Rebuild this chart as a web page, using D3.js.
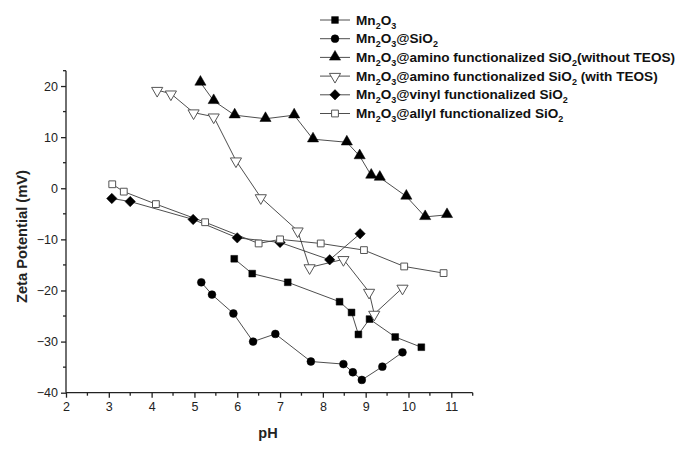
<!DOCTYPE html>
<html><head><meta charset="utf-8">
<script src="https://cdn.jsdelivr.net/npm/d3@7"></script>
<style>
body{margin:0;background:#fff;}
text{font-family:"Liberation Sans",Arial,sans-serif;}
</style></head>
<body><svg id="c" width="685" height="456"></svg>
<script>
// ---- data ----
const seriesNames = [
  "Mn_2O_3",
  "Mn_2O_3@SiO_2",
  "Mn_2O_3@amino functionalized SiO_2(without TEOS)",
  "Mn_2O_3@amino functionalized SiO_2 (with TEOS)",
  "Mn_2O_3@vinyl functionalized SiO_2",
  "Mn_2O_3@allyl functionalized SiO_2"
];
const mn2o3X = [5.93, 6.35, 7.18, 8.39, 8.67, 8.83, 9.09, 9.69, 10.30];
const mn2o3Y = [-13.8, -16.7, -18.4, -22.2, -24.3, -28.6, -25.6, -29.1, -31.1];
const sio2X = [5.16, 5.41, 5.91, 6.37, 6.89, 7.72, 8.48, 8.70, 8.91, 9.39, 9.86];
const sio2Y = [-18.4, -20.8, -24.5, -30.0, -28.5, -33.9, -34.4, -36.0, -37.5, -34.9, -32.1];
const aminoNoTeosX = [5.14, 5.45, 5.94, 6.66, 7.33, 7.77, 8.56, 8.86, 9.13, 9.33, 9.95, 10.39, 10.90];
const aminoNoTeosY = [20.7, 17.1, 14.3, 13.6, 14.3, 9.6, 9.0, 6.3, 2.5, 2.1, -1.6, -5.6, -5.2];
const aminoTeosX = [4.13, 4.45, 4.98, 5.45, 5.97, 6.55, 7.41, 7.69, 8.48, 9.08, 9.20, 9.86];
const aminoTeosY = [19.2, 18.5, 14.8, 14.0, 5.4, -1.8, -8.3, -15.5, -13.9, -20.3, -24.6, -19.5];
const vinylX = [3.07, 3.50, 4.97, 6.00, 7.00, 8.16, 8.87];
const vinylY = [-2.0, -2.6, -6.1, -9.7, -10.6, -14.0, -8.9];
const allylX = [3.08, 3.35, 4.10, 5.25, 6.50, 7.00, 7.95, 8.96, 9.90, 10.82];
const allylY = [0.78, -0.66, -3.1, -6.65, -10.8, -10.0, -10.8, -12.1, -15.3, -16.6];
const xTicks = [2, 3, 4, 5, 6, 7, 8, 9, 10, 11];
const yTicks = [-40, -30, -20, -10, 0, 10, 20];
const xTitle = "pH";
const yTitle = "Zeta Potential (mV)";

const series = [
  {name: seriesNames[0], xs: mn2o3X, ys: mn2o3Y, sym: "square", fill: true},
  {name: seriesNames[1], xs: sio2X, ys: sio2Y, sym: "circle", fill: true},
  {name: seriesNames[2], xs: aminoNoTeosX, ys: aminoNoTeosY, sym: "triUp", fill: true},
  {name: seriesNames[3], xs: aminoTeosX, ys: aminoTeosY, sym: "triDown", fill: false},
  {name: seriesNames[4], xs: vinylX, ys: vinylY, sym: "diamond", fill: true},
  {name: seriesNames[5], xs: allylX, ys: allylY, sym: "square", fill: false}
];

// ---- layout ----
const svg = d3.select("#c");
const x = d3.scaleLinear().domain([2, 11.5]).range([66, 472.7]);
const y = d3.scaleLinear().domain([-40, 23]).range([392.7, 70.7]);

const lineCol = "#3a3a3a";
const openCol = "#555";

// axes
const xAxis = d3.axisBottom(x).tickValues(xTicks).tickSize(5).tickPadding(4).tickFormat(d3.format("d"));
const gx = svg.append("g").attr("transform", `translate(0,${y(-40)})`).call(xAxis);
gx.select(".domain").attr("d", `M${x(2)},0H${x(11.5)}`).attr("stroke", "#222").attr("stroke-width", 1.3);
gx.selectAll(".tick line").attr("stroke", "#222").attr("stroke-width", 1.3);
gx.selectAll(".tick text").attr("font-size", 12.5).attr("fill", "#222").attr("font-family", "Liberation Sans, Arial, sans-serif");
const xMinor = d3.range(2.5, 11.6, 1);
gx.selectAll(".minor").data(xMinor).enter().append("line")
  .attr("x1", d => x(d)).attr("x2", d => x(d)).attr("y1", 0).attr("y2", 3)
  .attr("stroke", "#222").attr("stroke-width", 1.3);

const yAxis = d3.axisLeft(y).tickValues(yTicks).tickSize(5).tickPadding(3).tickFormat(d3.format("d"));
const gy = svg.append("g").attr("transform", `translate(${x(2)},0)`).call(yAxis);
gy.select(".domain").attr("d", `M0,${y(-40)}V${y(23)}`).attr("stroke", "#222").attr("stroke-width", 1.3);
gy.selectAll(".tick line").attr("stroke", "#222").attr("stroke-width", 1.3);
gy.selectAll(".tick text").attr("font-size", 12.5).attr("fill", "#222").attr("font-family", "Liberation Sans, Arial, sans-serif");
const yMinor = [-35, -25, -15, -5, 5, 15, 23];
gy.selectAll(".minor").data(yMinor).enter().append("line")
  .attr("y1", d => y(d)).attr("y2", d => y(d)).attr("x1", 0).attr("x2", -3)
  .attr("stroke", "#222").attr("stroke-width", 1.3);

// titles
svg.append("text").attr("x", 268).attr("y", 438).attr("text-anchor", "middle")
  .attr("font-size", 14.5).attr("font-weight", "bold").attr("fill", "#222").text(xTitle);
svg.append("text").attr("transform", `translate(26.5,236.5) rotate(-90)`).attr("text-anchor", "middle")
  .attr("font-size", 14.7).attr("font-weight", "bold").attr("fill", "#222").text(yTitle);

// symbols
const diamondPath = "M0,-5.2L5.2,0L0,5.2L-5.2,0Z";
function symPath(sym) {
  if (sym === "square") return d3.symbol(d3.symbolSquare, 46)();
  if (sym === "circle") return d3.symbol(d3.symbolCircle, 48)();
  if (sym === "triUp" || sym === "triDown") return d3.symbol(d3.symbolTriangle, 54)();
  if (sym === "diamond") return diamondPath;
}
function drawSym(g, s, cx, cy) {
  const rot = s.sym === "triDown" ? " rotate(180)" : "";
  const ty = s.sym === "triUp" ? -0.5 : (s.sym === "triDown" ? 0.5 : 0);
  g.append("path").attr("d", symPath(s.sym))
    .attr("transform", `translate(${cx},${cy + ty})${rot}`)
    .attr("fill", s.fill ? "#000" : "#fff")
    .attr("stroke", s.fill ? "#000" : openCol)
    .attr("stroke-width", s.fill ? 0.5 : 1);
}

const line = d3.line().x(d => x(d[0])).y(d => y(d[1]));
series.forEach(s => {
  const pts = s.xs.map((v, i) => [v, s.ys[i]]);
  svg.append("path").datum(pts).attr("d", line).attr("fill", "none")
    .attr("stroke", lineCol).attr("stroke-width", 0.9);
});
series.forEach(s => {
  const g = svg.append("g");
  s.xs.forEach((v, i) => drawSym(g, s, x(v), y(s.ys[i])));
});

// legend
function richText(t, str) {
  const parts = str.split(/(_.)/).filter(p => p.length);
  let sub = false;
  parts.forEach(p => {
    if (p[0] === "_") {
      t.append("tspan").attr("dy", 4).attr("font-size", 9).text(p[1]);
      sub = true;
    } else {
      t.append("tspan").attr("dy", sub ? -4 : 0).text(p);
      sub = false;
    }
  });
}
const legY0 = 20, legDy = 18.7;
series.forEach((s, i) => {
  const ly = legY0 + i * legDy;
  const g = svg.append("g");
  g.append("line").attr("x1", 320).attr("x2", 350).attr("y1", ly).attr("y2", ly)
    .attr("stroke", lineCol).attr("stroke-width", 0.9);
  drawSym(g, s, 335, ly);
  const t = g.append("text").attr("x", 356).attr("y", ly + 4.5)
    .attr("font-size", 13.6).attr("font-weight", "bold").attr("fill", "#111");
  richText(t, s.name);
});
</script></body></html>
